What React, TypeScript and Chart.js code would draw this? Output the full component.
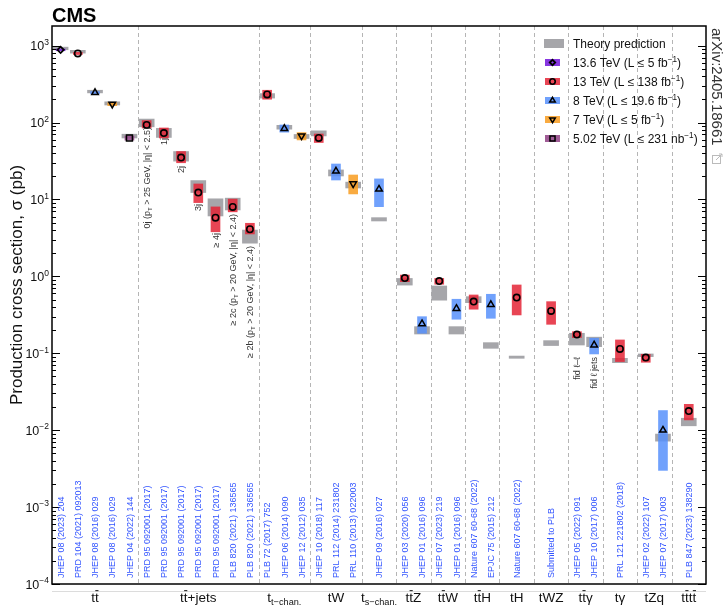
import React, { useEffect, useRef } from 'react';
import { Chart, registerables } from 'chart.js';
import { drawPoint } from 'chart.js/helpers';

Chart.register(...registerables);

// ---------- axis ranges / layout categories ----------
const Y_MIN = 1e-4;
const Y_MAX = 1800;
const X_MIN = 0;
const X_MAX = 38;
const yTickExponents = [-4, -3, -2, -1, 0, 1, 2, 3];
const groupEdges = [0, 5, 12, 15, 18, 20, 22, 24, 26, 28, 30, 32, 34, 36, 38];
const processLabels = [
  't~{t}', 't~{t}+jets', 't_{t−chan.}', 'tW', 't_{s−chan.}', 't~{t}Z', 't~{t}W',
  't~{t}H', 'tH', 'tWZ', 't~{t}γ', 'tγ', 'tZq', 't~{t}t~{t}',
];

// ---------- every measurement slot ----------
const itemX = [0.5, 1.5, 2.5, 3.5, 4.5, 5.5, 6.5, 7.5, 8.5, 9.5, 10.5, 11.5, 12.5, 13.5, 14.5, 15.5, 16.5, 17.5, 19, 20.5, 21.5, 22.5, 23.5, 24.5, 25.5, 27, 29, 30.5, 31.5, 33, 34.5, 35.5, 37];
const refLabels = [
  'JHEP 08 (2023) 204', 'PRD 104 (2021) 092013', 'JHEP 08 (2016) 029', 'JHEP 08 (2016) 029', 'JHEP 04 (2022) 144',
  'PRD 95 092001 (2017)', 'PRD 95 092001 (2017)', 'PRD 95 092001 (2017)', 'PRD 95 092001 (2017)', 'PRD 95 092001 (2017)',
  'PLB 820 (2021) 136565', 'PLB 820 (2021) 136565',
  'PLB 72 (2017) 752', 'JHEP 06 (2014) 090', 'JHEP 12 (2012) 035',
  'JHEP 10 (2018) 117', 'PRL 112 (2014) 231802', 'PRL 110 (2013) 022003',
  'JHEP 09 (2016) 027',
  'JHEP 03 (2020) 056', 'JHEP 01 (2016) 096',
  'JHEP 07 (2023) 219', 'JHEP 01 (2016) 096',
  'Nature 607 60-68 (2022)', 'EPJC 75 (2015) 212',
  'Nature 607 60-68 (2022)',
  'Submitted to PLB',
  'JHEP 05 (2022) 091', 'JHEP 10 (2017) 006',
  'PRL 121 221802 (2018)',
  'JHEP 02 (2022) 107', 'JHEP 07 (2017) 003',
  'PLB 847 (2023) 138290',
];

// theory predictions (band low / high), aligned with itemX
const thLo = [884, 799, 243, 169, 63, 88, 64, 31.5, 12.3, 6.1, 7.3, 2.7, 208, 82, 62, 67, 20.2, 14.1, 5.25, 0.77, 0.178, 0.49, 0.178, 0.455, 0.116, 0.086, 0.126, 0.128, 0.122, 0.0755, 0.0904, 0.0072, 0.0114];
const thHi = [956, 869, 263, 186, 70.5, 111, 84, 42, 17.6, 10.2, 10.4, 4.0, 238, 92, 70, 78, 24.2, 16.8, 5.8, 0.94, 0.222, 0.75, 0.222, 0.545, 0.1375, 0.092, 0.146, 0.182, 0.162, 0.086, 0.098, 0.0089, 0.0143];

// 13.6 TeV
const x136 = [0.5];
const v136 = [881];
const lo136 = [858];
const hi136 = [904];

// 13 TeV
const x13 = [1.5, 5.5, 6.5, 7.5, 8.5, 9.5, 10.5, 11.5, 12.5, 15.5, 20.5, 22.5, 24.5, 27, 29, 30.5, 33, 34.5, 37];
const v13 = [791, 93, 73, 35, 12.3, 5.8, 8.0, 4.1, 232, 63.1, 0.95, 0.868, 0.47, 0.53, 0.355, 0.175, 0.114, 0.088, 0.0177];
const lo13 = [766, 85, 63, 30, 9.1, 3.8, 6.9, 3.56, 201, 55, 0.853, 0.79, 0.374, 0.315, 0.238, 0.16, 0.078, 0.0764, 0.0136];
const hi13 = [816, 106, 85, 42, 15.9, 8.0, 10.1, 4.9, 263, 71, 1.04, 0.94, 0.573, 0.773, 0.469, 0.191, 0.149, 0.097, 0.0217];

// 8 TeV
const x8 = [2.5, 13.5, 16.5, 19, 21.5, 23.5, 25.5, 31.5, 35.5];
const v8 = [245, 83.6, 23.4, 13.6, 0.242, 0.382, 0.43, 0.128, 0.010];
const lo8 = [236.5, 75, 17.9, 8.05, 0.182, 0.277, 0.285, 0.098, 0.003];
const hi8 = [253.3, 93, 28.9, 18.5, 0.299, 0.504, 0.585, 0.157, 0.018];

// 7 TeV
const x7 = [3.5, 14.5, 17.5];
const v7 = [173.6, 67.2, 16];
const lo7 = [166, 59.4, 11.8];
const hi7 = [181.3, 74, 20.8];

// 5.02 TeV
const x502 = [4.5];
const v502 = [63];
const lo502 = [59];
const hi502 = [67];

// annotations under some points
const annX = [5.5, 6.5, 7.5, 8.5, 9.5, 10.5, 11.5, 30.5, 31.5];
const annY = [87.7, 63.1, 27.3, 8.74, 3.67, 6.48, 2.49, 0.0895, 0.0895];
const annText = [
  '0j (p_{T} > 25 GeV, |η| < 2.5)', '1j', '2j', '3j', '≥ 4j',
  '≥ 2c (p_{T} > 20 GeV, |η| < 2.4)', '≥ 2b (p_{T} > 20 GeV, |η| < 2.4)',
  'fid ℓ–ℓ', 'fid ℓ jets',
];

// legend
const legendText = [
  'Theory prediction',
  '13.6 TeV (L ≤ 5 fb^{−1})',
  '13 TeV (L ≤ 138 fb^{−1})',
  '8 TeV (L ≤ 19.6 fb^{−1})',
  '7 TeV (L ≤ 5 fb^{−1})',
  '5.02 TeV (L ≤ 231 nb^{−1})',
];

// ---------- styles ----------
const FAMILY = '"Liberation Sans", Arial, Helvetica, sans-serif';
const C_THEORY = 'rgba(156,156,161,0.9)';
const C136 = 'rgba(122,33,221,0.9)';
const C13 = 'rgba(228,37,54,0.85)';
const C8 = 'rgba(87,144,252,0.85)';
const C7 = 'rgba(248,156,32,0.85)';
const C502 = 'rgba(150,74,139,0.9)';
const legendColors = [C_THEORY, C136, C13, C8, C7, C502];
const markerStyles: any[] = [
  null,
  { pointStyle: 'rectRot', radius: 3.2, borderWidth: 1.8, rotation: 0 },
  { pointStyle: 'circle', radius: 3.2, borderWidth: 1.6, rotation: 0 },
  { pointStyle: 'triangle', radius: 3.8, borderWidth: 1.5, rotation: 0 },
  { pointStyle: 'triangle', radius: 3.8, borderWidth: 1.5, rotation: 180 },
  { pointStyle: 'rect', radius: 4.2, borderWidth: 1.5, rotation: 0 },
];

const font = (size: number, weight = '') => `${weight} ${size}px ${FAMILY}`.trim();

type Seg = { t: string; k: 'n' | 'sub' | 'sup' | 'bar' };
function parseRich(s: string): Seg[] {
  const out: Seg[] = [];
  let buf = '';
  let i = 0;
  while (i < s.length) {
    const c = s[i];
    if ((c === '_' || c === '^' || c === '~') && s[i + 1] === '{') {
      if (buf) { out.push({ t: buf, k: 'n' }); buf = ''; }
      const end = s.indexOf('}', i + 2);
      out.push({ t: s.slice(i + 2, end), k: c === '_' ? 'sub' : c === '^' ? 'sup' : 'bar' });
      i = end + 1;
    } else {
      buf += c;
      i++;
    }
  }
  if (buf) out.push({ t: buf, k: 'n' });
  return out;
}

function drawRich(ctx: CanvasRenderingContext2D, s: string, x: number, y: number, size: number,
  align: 'left' | 'center' | 'right', color: string, weight = '') {
  const segs = parseRich(s);
  const sz = (k: string) => (k === 'sub' || k === 'sup' ? size * 0.68 : size);
  let w = 0;
  for (const g of segs) { ctx.font = font(sz(g.k), weight); w += ctx.measureText(g.t).width; }
  let cx = align === 'left' ? x : align === 'center' ? x - w / 2 : x - w;
  ctx.fillStyle = color;
  ctx.strokeStyle = color;
  ctx.textAlign = 'left';
  ctx.textBaseline = 'alphabetic';
  for (const g of segs) {
    ctx.font = font(sz(g.k), weight);
    const dy = g.k === 'sub' ? size * 0.25 : g.k === 'sup' ? -size * 0.42 : 0;
    ctx.fillText(g.t, cx, y + dy);
    const sw = ctx.measureText(g.t).width;
    if (g.k === 'bar') {
      ctx.lineWidth = Math.max(1, size * 0.07);
      ctx.beginPath();
      ctx.moveTo(cx + 0.3, y - size * 0.84);
      ctx.lineTo(cx + sw - 0.3, y - size * 0.84);
      ctx.stroke();
    }
    cx += sw;
  }
}

const decorPlugin = {
  id: 'cmsDecor',
  beforeDatasetsDraw(chart: any) {
    const { ctx, chartArea: a, scales } = chart;
    const xs = scales.x;
    ctx.save();
    ctx.strokeStyle = '#b5b5b5';
    ctx.lineWidth = 1;
    ctx.setLineDash([4, 3]);
    for (const e of groupEdges) {
      if (e <= X_MIN || e >= X_MAX) continue;
      const px = Math.round(xs.getPixelForValue(e)) + 0.5;
      ctx.beginPath();
      ctx.moveTo(px, a.top);
      ctx.lineTo(px, a.bottom);
      ctx.stroke();
    }
    ctx.restore();
  },
  afterDraw(chart: any) {
    const { ctx, chartArea: a, scales } = chart;
    const xs = scales.x;
    const ys = scales.y;
    ctx.save();
    // frame
    ctx.strokeStyle = '#000';
    ctx.lineWidth = 1.5;
    ctx.strokeRect(a.left, a.top, a.right - a.left, a.bottom - a.top);
    // inward ticks
    ctx.lineWidth = 1;
    for (const e of yTickExponents) {
      for (let m = 1; m <= 9; m++) {
        const v = m * Math.pow(10, e);
        if (v < Y_MIN || v > Y_MAX) continue;
        const py = Math.round(ys.getPixelForValue(v)) + 0.5;
        const len = m === 1 ? 8 : 4;
        ctx.beginPath();
        ctx.moveTo(a.left, py); ctx.lineTo(a.left + len, py);
        ctx.moveTo(a.right, py); ctx.lineTo(a.right - len, py);
        ctx.stroke();
      }
    }
    // y tick labels
    for (const e of yTickExponents) {
      const py = ys.getPixelForValue(Math.pow(10, e));
      const ex = e < 0 ? '−' + Math.abs(e) : String(e);
      drawRich(ctx, '10^{' + ex + '}', a.left - 3, py + 4.5, 12.5, 'right', '#111');
    }
    // light line under axis
    ctx.strokeStyle = '#dcdcdc';
    ctx.lineWidth = 1;
    ctx.beginPath();
    ctx.moveTo(a.left, a.bottom + 7.5);
    ctx.lineTo(a.right, a.bottom + 7.5);
    ctx.stroke();
    // process labels
    for (let i = 0; i < processLabels.length; i++) {
      const c = (groupEdges[i] + groupEdges[i + 1]) / 2;
      drawRich(ctx, processLabels[i], xs.getPixelForValue(c), a.bottom + 18, 13.5, 'center', '#111');
    }
    // reference labels
    for (let i = 0; i < itemX.length; i++) {
      ctx.save();
      ctx.translate(xs.getPixelForValue(itemX[i]), a.bottom - 6);
      ctx.rotate(-Math.PI / 2);
      drawRich(ctx, refLabels[i], 0, 3.2, 9, 'left', '#3355ff');
      ctx.restore();
    }
    // annotations
    for (let i = 0; i < annX.length; i++) {
      ctx.save();
      ctx.translate(xs.getPixelForValue(annX[i]), ys.getPixelForValue(annY[i]));
      ctx.rotate(-Math.PI / 2);
      drawRich(ctx, annText[i], 0, 3.2, 9, 'right', '#333');
      ctx.restore();
    }
    // y axis title
    ctx.save();
    ctx.translate(16, 285);
    ctx.rotate(-Math.PI / 2);
    drawRich(ctx, 'Production cross section, σ (pb)', 0, 6, 17, 'center', '#111');
    ctx.restore();
    // CMS
    drawRich(ctx, 'CMS', a.left, 21.5, 20, 'left', '#000', 'bold');
    // arXiv
    ctx.save();
    ctx.translate(717, 28);
    ctx.rotate(Math.PI / 2);
    drawRich(ctx, 'arXiv:2405.18661', 0, 5.2, 15, 'left', '#333');
    ctx.restore();
    // link icon
    ctx.strokeStyle = '#bbb';
    ctx.lineWidth = 1;
    ctx.strokeRect(712.5, 155.5, 8, 8);
    ctx.beginPath();
    ctx.moveTo(716, 160); ctx.lineTo(722, 154); ctx.moveTo(719, 154); ctx.lineTo(722, 154); ctx.lineTo(722, 157);
    ctx.stroke();
    // legend
    for (let i = 0; i < legendText.length; i++) {
      const ry = 43.5 + i * 19;
      ctx.fillStyle = legendColors[i];
      if (i === 0) {
        ctx.fillRect(544, ry - 4.5, 20, 9);
      } else {
        ctx.fillRect(545, ry - 3.5, 15, 7);
        const ms = markerStyles[i];
        ctx.strokeStyle = '#000';
        ctx.fillStyle = 'rgba(0,0,0,0)';
        ctx.lineWidth = ms.borderWidth;
        drawPoint(ctx, { ...ms, radius: ms.radius * 0.85 }, 552.5, ry);
      }
      drawRich(ctx, legendText[i], 573, ry + 4.3, 12, 'left', '#111');
    }
    ctx.restore();
  },
};

function bars(xs: number[], lo: number[], hi: number[]) {
  return xs.map((x, i) => ({ x, y: [lo[i], hi[i]] }));
}
function pts(xs: number[], v: number[]) {
  return xs.map((x, i) => ({ x, y: v[i] }));
}

export default function App() {
  const ref = useRef<HTMLCanvasElement>(null);
  useEffect(() => {
    if (!ref.current) return;
    const measBar = (data: any, color: string) => ({
      type: 'bar', data, backgroundColor: color, borderWidth: 0, barThickness: 9, grouped: false, order: 1,
    });
    const marker = (data: any, i: number) => {
      const ms = markerStyles[i];
      return {
        type: 'scatter', data, order: 0, pointStyle: ms.pointStyle, pointRadius: ms.radius,
        pointRotation: ms.rotation, pointBorderWidth: ms.borderWidth, pointBorderColor: '#000',
        pointBackgroundColor: 'rgba(0,0,0,0)', pointHoverRadius: ms.radius,
      };
    };
    const chart = new Chart(ref.current, {
      type: 'bar',
      data: {
        datasets: [
          {
            type: 'bar', data: bars(itemX, thLo, thHi), backgroundColor: C_THEORY, borderWidth: 0,
            barThickness: 15, grouped: false, order: 2,
          } as any,
          measBar(bars(x136, lo136, hi136), C136),
          measBar(bars(x13, lo13, hi13), C13),
          measBar(bars(x8, lo8, hi8), C8),
          measBar(bars(x7, lo7, hi7), C7),
          measBar(bars(x502, lo502, hi502), C502),
          marker(pts(x136, v136), 1),
          marker(pts(x13, v13), 2),
          marker(pts(x8, v8), 3),
          marker(pts(x7, v7), 4),
          marker(pts(x502, v502), 5),
        ] as any,
      },
      options: {
        responsive: false,
        devicePixelRatio: 1,
        animation: false,
        layout: { padding: { left: 52, right: 20, top: 26, bottom: 24 } },
        scales: {
          x: { type: 'linear', min: X_MIN, max: X_MAX, offset: false, display: false },
          y: { type: 'logarithmic', min: Y_MIN, max: Y_MAX, display: false },
        },
        plugins: { legend: { display: false }, tooltip: { enabled: false } },
      } as any,
      plugins: [decorPlugin],
    });
    return () => chart.destroy();
  }, []);
  return (
    <div style={{ position: 'absolute', left: 0, top: 0, width: 726, height: 608, background: '#fff' }}>
      <canvas ref={ref} width={726} height={608} style={{ display: 'block' }} />
    </div>
  );
}
